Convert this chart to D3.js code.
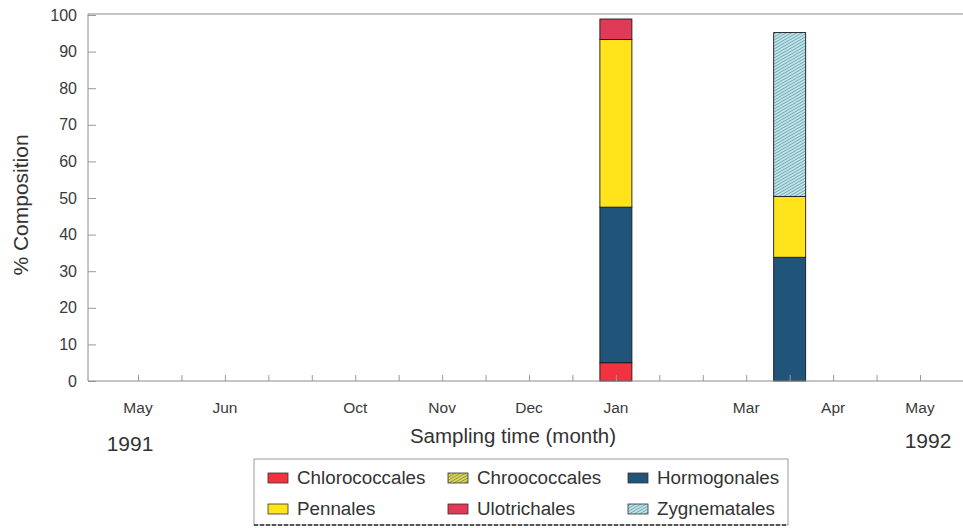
<!DOCTYPE html>
<html><head><meta charset="utf-8">
<script src="https://cdn.jsdelivr.net/npm/d3@7"></script>
<style>body{margin:0;background:#fff}svg{display:block;font-family:"Liberation Sans",Arial,sans-serif}</style>
</head><body><svg id="c" width="963" height="528"></svg>
<script>
// ---- data ----
const slots = ["s01","s02","s03","s04","s05","s06","s07","s08","s09","s10","s11","s12","s13","s14","s15","s16","s17","s18","s19"];
const slotLabels = ["May","","Jun","","","Oct","","Nov","","Dec","","Jan","","","Mar","","Apr","","May"];
const series = ["Chlorococcales","Chroococcales","Hormogonales","Pennales","Ulotrichales","Zygnematales"];
const sampledSlots = ["s12","s16"];
const chlorococcales = [5.0, 0];
const chroococcales  = [0, 0];
const hormogonales   = [42.5, 33.8];
const pennales       = [45.8, 16.6];
const ulotrichales   = [5.6, 0];
const zygnematales   = [0, 44.8];
const yTicks = [0,10,20,30,40,50,60,70,80,90,100];
const yearLabels = ["1991","1992"];

const seriesValues = {Chlorococcales:chlorococcales,Chroococcales:chroococcales,Hormogonales:hormogonales,Pennales:pennales,Ulotrichales:ulotrichales,Zygnematales:zygnematales};
const table = sampledSlots.map((s,i)=>{const r={slot:s};series.forEach(k=>r[k]=seriesValues[k][i]);return r;});

const svg = d3.select("#c");
const defs = svg.append("defs");
function hatch(id, bg, fg){
  const p = defs.append("pattern").attr("id",id).attr("patternUnits","userSpaceOnUse")
    .attr("width",2.6).attr("height",2.6).attr("patternTransform","rotate(60)");
  p.append("rect").attr("width",2.6).attr("height",2.6).attr("fill",bg);
  p.append("line").attr("x1",0).attr("y1",0).attr("x2",0).attr("y2",2.6).attr("stroke",fg).attr("stroke-width",1.1);
}
hatch("hZyg","#c2e3e8","#3f8498");
hatch("hChr","#d9d860","#66641c");
const fills = {Chlorococcales:"#f2323e",Chroococcales:"url(#hChr)",Hormogonales:"#215479",Pennales:"#ffe41c",Ulotrichales:"#e03a58",Zygnematales:"url(#hZyg)"};

const pL=88, pR=963, pT=14, pB=381;
const x = d3.scalePoint().domain(slots).range([138,920]);
const y = d3.scaleLinear().domain([0,100]).range([pB,15]);

// frame
svg.append("line").attr("x1",pL).attr("x2",pR).attr("y1",pT).attr("y2",pT).attr("stroke","#8a8a8a").attr("stroke-width",1.2);

// stacked bars
const stack = d3.stack().keys(series)(table);
const bw = 32;
svg.append("g").selectAll("g").data(stack).join("g").attr("fill",d=>fills[d.key])
  .selectAll("rect").data(d=>d.filter(p=>p[1]-p[0]>0)).join("rect")
  .attr("x",d=>x(d.data.slot)-bw/2).attr("width",bw)
  .attr("y",d=>y(d[1])).attr("height",d=>y(d[0])-y(d[1]))
  .attr("stroke","#1a1a1a").attr("stroke-width",0.9);

// y axis
const ya = svg.append("g").attr("transform",`translate(${pL},0)`)
  .call(d3.axisRight(y).tickValues(yTicks).tickSize(8).tickFormat(""));
ya.select(".domain").attr("d",`M0,${pT}V${pB}`).attr("stroke","#8a8a8a");
ya.selectAll(".tick line").attr("stroke","#9a9a9a");
svg.append("g").selectAll("text").data(yTicks).join("text")
  .attr("x",77).attr("y",d=>y(d)+5.5).attr("text-anchor","end")
  .attr("font-size",16).attr("fill","#3a3a3a").text(d=>d);

// x axis
const xa = svg.append("g").attr("transform",`translate(0,${pB})`)
  .call(d3.axisTop(x).tickSize(6).tickFormat(""));
xa.select(".domain").attr("d",`M${pL},0H${pR}`).attr("stroke","#8a8a8a");
xa.selectAll(".tick line").attr("stroke","#9a9a9a");
svg.append("g").selectAll("text").data(slots).join("text")
  .attr("x",d=>x(d)).attr("y",413).attr("text-anchor","middle")
  .attr("font-size",15.5).attr("fill","#3a3a3a")
  .text((d,i)=>slotLabels[i]);

// axis titles
svg.append("text").attr("x",513).attr("y",443).attr("text-anchor","middle").attr("font-size",20.5).attr("fill","#333").text("Sampling time (month)");
svg.append("text").attr("transform","translate(28,205) rotate(-90)").attr("text-anchor","middle").attr("font-size",21).attr("fill","#333").text("% Composition");
svg.append("text").attr("x",130).attr("y",451).attr("text-anchor","middle").attr("font-size",21).attr("fill","#333").text(yearLabels[0]);
svg.append("text").attr("x",928).attr("y",448).attr("text-anchor","middle").attr("font-size",21).attr("fill","#333").text(yearLabels[1]);

// legend
const lg = svg.append("g");
lg.append("rect").attr("x",254).attr("y",459).attr("width",534).attr("height",66).attr("fill","#fff").attr("stroke","#9a9a9a");
lg.append("line").attr("x1",254).attr("x2",788).attr("y1",525).attr("y2",525).attr("stroke","#555").attr("stroke-width",2).attr("stroke-dasharray","4,2");
const colX=[268,448,628], rowY=[484,515];
series.forEach((k,i)=>{
  const c=i%3, r=Math.floor(i/3);
  lg.append("rect").attr("x",colX[c]).attr("y",rowY[r]-11).attr("width",20).attr("height",10)
    .attr("fill",fills[k]).attr("stroke","#333").attr("stroke-width",0.8);
  lg.append("text").attr("x",colX[c]+29).attr("y",rowY[r]).attr("font-size",18.8).attr("fill","#333").text(k);
});
</script></body></html>
